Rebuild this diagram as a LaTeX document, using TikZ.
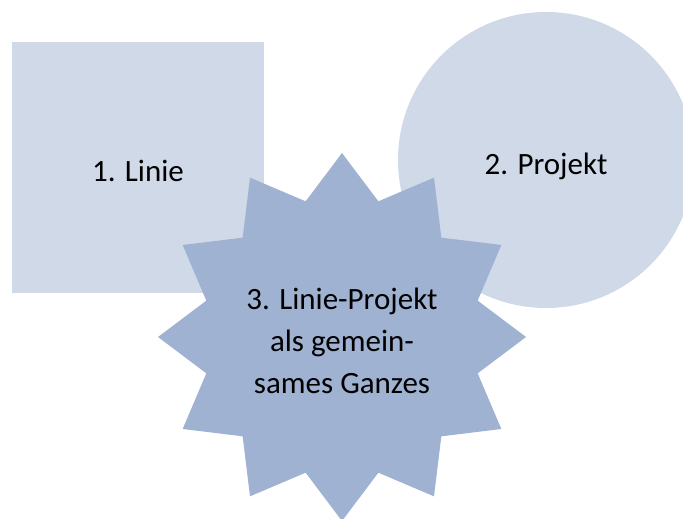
\documentclass[tikz,border=0pt]{standalone}
\usepackage{fontspec}
\setmainfont{Carlito}
\usetikzlibrary{shapes.geometric}
\definecolor{lightblue}{HTML}{CFD9E8}
\definecolor{midblue}{HTML}{A0B2D1}
\newcommand{\lowered}[1]{\raisebox{-6pt}[\height][\depth]{\begin{tabular}{@{}c@{}}#1\end{tabular}}}
\tikzset{
    part/.style={fill=lightblue, draw=none, inner sep=0pt, font=\fontsize{31}{42}\selectfont},
    whole/.style={star, star points=12, star point ratio=1.31, fill=midblue, draw=none,
        minimum size=368pt, inner sep=0pt, font=\fontsize{31}{42}\selectfont}
}

\begin{document}
\begin{tikzpicture}[x=1pt, y=1pt]
\useasboundingbox (0,0) rectangle (683,519);

% Line and project
\node[part, rectangle, minimum width=252pt, minimum height=251pt] (linie) at (138,351.5) {\lowered{1. Linie}};
\node[part, circle, minimum size=296pt] (projekt) at (546,359) {\lowered{2. Projekt}};

% Both together
\node[whole] (ganzes) at (342,182) {\lowered{3. Linie-Projekt\\als gemein-\\sames Ganzes}};

\end{tikzpicture}
\end{document}
